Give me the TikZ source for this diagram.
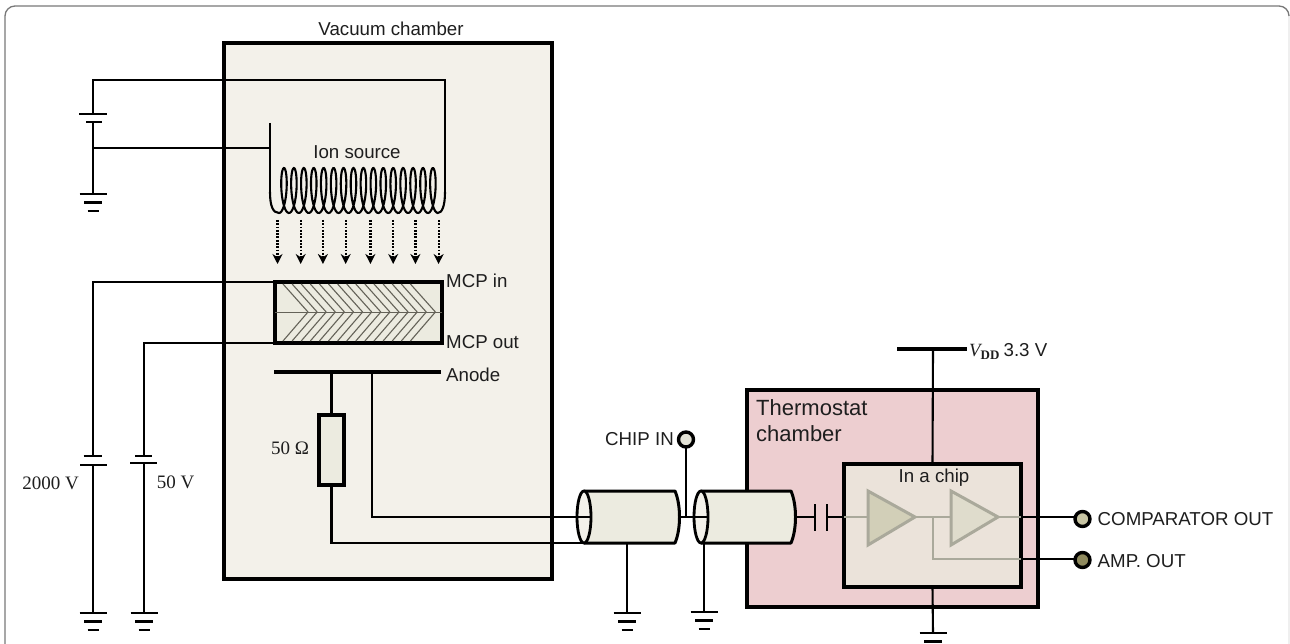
\documentclass[tikz,border=0pt]{standalone}
\usepackage{fontspec}
\setmainfont{Liberation Sans}
\newfontfamily\serifface{Liberation Serif}
\usetikzlibrary{arrows.meta,shapes.geometric}
\definecolor{framecol}{RGB}{120,120,120}
\definecolor{inkcol}{RGB}{30,30,30}
\definecolor{vacuumcol}{RGB}{243,241,234}
\definecolor{mcpcol}{RGB}{236,235,224}
\definecolor{hatchcol}{RGB}{100,98,88}
\definecolor{thermocol}{RGB}{237,206,208}
\definecolor{chipcol}{RGB}{235,227,218}
\definecolor{ampcol}{RGB}{170,169,155}
\definecolor{ampAcol}{RGB}{210,207,184}
\definecolor{ampBcol}{RGB}{223,220,204}
\definecolor{termAcol}{RGB}{227,226,214}
\definecolor{termBcol}{RGB}{200,197,164}
\definecolor{termCcol}{RGB}{143,138,94}
\tikzset{
  wire/.style={draw=black,line width=2.1pt},
  greywire/.style={draw=ampcol,line width=2pt},
  plate/.style={draw=black,line width=2.5pt},
  bar/.style={draw=black,line width=4.8pt},
  chamber/.style={draw=black,line width=4pt,inner sep=0pt,outer sep=0pt},
  resbox/.style={chamber,fill=mcpcol,line width=3.2pt},
  coax/.style={draw=black,line width=3pt,fill=mcpcol,line join=round},
  coaxend/.style={ellipse,draw=black,line width=2.8pt,fill=vacuumcol,inner sep=0pt,
                  outer sep=0pt,minimum width=14pt,minimum height=52pt},
  amp/.style={draw=ampcol,line width=3pt,line join=miter},
  term/.style={circle,draw=black,line width=3.4pt,inner sep=0pt,outer sep=0pt,
               minimum size=15pt},
  hatch/.style={draw=hatchcol,line width=1.1pt},
  ion/.style={-{Stealth[length=10pt,width=10pt]},draw=black,line width=2.2pt,
              dash pattern=on 1.8pt off 1.5pt},
  lab/.style={inner sep=0pt,text=inkcol,font=\fontsize{18.7}{22}\selectfont},
  seriflab/.style={lab,font=\serifface\fontsize{19}{22}\selectfont},
}
\begin{document}
\begin{tikzpicture}[x=1pt,y=-1pt]
  \useasboundingbox (0,0) rectangle (1290,644);
  \fill[white] (0,0) rectangle (1290,644);
  \draw[framecol!12,line width=1.3pt] (1289,14) -- (1289,660);
  \draw[framecol,line width=1.3pt,rounded corners=10pt]
    (5,660) -- (5,6) -- (1289,6) -- (1289,16);
  % the two chambers and the chip
  \node[chamber,fill=vacuumcol,minimum width=328pt,minimum height=536pt] (vacuum) at (388,311) {};
  \node[chamber,fill=thermocol,minimum width=291pt,minimum height=217pt] (thermo) at (892.5,498.5) {};
  \node[chamber,fill=chipcol,minimum width=177pt,minimum height=123pt] (chip) at (932.5,525.5) {};
  \node[lab] (vacuumlab) at (391,29) {Vacuum chamber};
  \node[lab,anchor=north west,align=left,font=\fontsize{22}{26}\selectfont] (thermolab) at (756,399)
    {Thermostat\\chamber};
  \node[lab] (chiplab) at (934,478) {In a chip};
  % earth symbols
  \foreach \n/\x/\y in {A/93/194,B/93/613,C/144/613,D/627/613,E/704/612,F/933/633}{
    \coordinate (gnd\n) at (\x,\y);
    \draw[plate] (\x-13.5,\y) -- (\x+13.5,\y);
    \draw[plate] (\x-9,\y+8.5) -- (\x+9,\y+8.5);
    \draw[plate] (\x-5.5,\y+17) -- (\x+5.5,\y+17);}
  % supplies
  \coordinate (supAtop) at (93,114);
  \coordinate (supAlow) at (93,122);
  \coordinate (supBtop) at (93,456);
  \coordinate (supBlow) at (93,465);
  \coordinate (supCtop) at (144,456);
  \coordinate (supClow) at (144,463);
  \draw[plate] (79,114) -- (107,114);
  \draw[plate] (86,122) -- (102,122);
  \draw[plate] (83.5,456) -- (102,456);
  \draw[plate] (80,465) -- (107,465);
  \draw[plate] (135,456) -- (152,456);
  \draw[plate] (130,463) -- (157,463);
  \node[seriflab] (voltB) at (50.5,483.5) {2000 V};
  \node[seriflab] (voltC) at (175.5,482.5) {50 V};
  % ion source
  \coordinate (filL) at (270,192);
  \coordinate (filR) at (445,192);
  \coordinate (filtop) at (270,123);
  \coordinate (filtap) at (270,148);
  \node[lab] (ionlab) at (357,152) {Ion source};
  \draw[wire] (filL) .. controls (270,206) and (273,213) .. (279,213)
    -- plot[domain=0:16,samples=500,smooth] ({279+9.93*\x+5*sin(360*\x)},{190.5+22.5*cos(360*\x)})
    .. controls (442,213) and (445,206) .. (filR);
  \draw[wire] (filtop) -- (filL);
  \draw[wire] (supAtop) |- (445,80) -- (filR);
  \draw[wire] (supAlow) -- (gndA);
  \draw[wire] (93,148) -- (filtap);
  \foreach \i/\x in {1/277.5,2/300.7,3/322.9,4/345.7,5/370.4,6/393.2,7/415.4,8/438.6}{
    \coordinate (ionfrom\i) at (\x,220);
    \coordinate (ionto\i) at (\x,264);
    \draw[ion] (ionfrom\i) -- (ionto\i);}
  % the plates
  \node[chamber,fill=mcpcol,minimum width=167pt,minimum height=61pt] (mcp) at (358.5,312.5) {};
  \foreach \i in {0,...,14}{
    \draw[hatch] ({283+9.1*\i},284) -- ({308+9.1*\i},312);
    \draw[hatch] ({283+9.1*\i},341) -- ({308+9.1*\i},312);}
  \draw[draw=hatchcol,line width=1.2pt] (mcp.west) -- (mcp.east);
  \draw[wire] (mcp.north west) -- (93,282) -- (supBtop);
  \draw[wire] (supBlow) -- (gndB);
  \draw[wire] (mcp.south west) -- (144,343) -- (supCtop);
  \draw[wire] (supClow) -- (gndC);
  \node[lab,anchor=west] (mcpin) at (446,281) {MCP in};
  \node[lab,anchor=west] (mcpout) at (446,342) {MCP out};
  \coordinate (anodeL) at (274,372);
  \coordinate (anodeR) at (441,372);
  \draw[bar] (anodeL) -- (anodeR);
  \node[lab,anchor=west] (anodelab) at (446,375) {Anode};
  \node[resbox,minimum width=25pt,minimum height=70pt] (load) at (331.5,450) {};
  \node[seriflab] (loadlab) at (290,448) {50 Ω};
  % the two cable pieces
  \draw[coax] (584,491) -- (675,491) .. controls (681,505) and (681,529) .. (675,543) -- (584,543) -- cycle;
  \draw[coax] (701,491) -- (791,491) .. controls (797,505) and (797,529) .. (791,543) -- (701,543) -- cycle;
  \node[coaxend] (endA) at (584,517) {};
  \node[coaxend] (endB) at (701,517) {};
  \coordinate (coaxAout) at (680,517);
  \coordinate (coaxBout) at (796,517);
  \coordinate (coaxAlow) at (627,543);
  \coordinate (coaxBlow) at (704,543);
  \draw[wire] (load.north) -- (331.5,372);
  \draw[wire] (load.south) |- (endA.south);
  \draw[wire] (372,372) |- (endA.east);
  \draw[wire] (coaxAout) -- (endB.east);
  \draw[wire] (coaxAlow) -- (gndD);
  \draw[wire] (coaxBlow) -- (gndE);
  \node[term,fill=termAcol] (chipin) at (686,439.5) {};
  \node[lab,anchor=east] (chipinlab) at (674,439) {CHIP IN};
  \draw[wire] (chipin) -- (686,517);
  % capacitor and amplifiers
  \coordinate (capL) at (815,517);
  \coordinate (capR) at (827,517);
  \draw[plate] (815,504) -- (815,531);
  \draw[plate] (827,504) -- (827,531);
  \draw[wire] (coaxBout) -- (capL);
  \draw[wire] (capR) -- (chip.west |- capR);
  \coordinate (ampAin) at (868,517);
  \coordinate (ampAout) at (915,517);
  \coordinate (ampBin) at (951,517);
  \coordinate (ampBout) at (998,517);
  \coordinate (chipR) at (1021,517);
  \coordinate (chipRlow) at (1021,559);
  \draw[greywire] (chip.west |- capR) -- (ampAin);
  \draw[greywire] (ampAout) -- (ampBin);
  \draw[greywire] (ampBout) -- (chipR);
  \draw[greywire] (933,517) |- (chipRlow);
  \draw[amp,fill=ampAcol] (868,491) -- (ampAout) -- (868,545) -- cycle;
  \draw[amp,fill=ampBcol] (951,491) -- (ampBout) -- (951,545) -- cycle;
  % supply and outputs of the chip
  \coordinate (vddL) at (897,349);
  \coordinate (vddR) at (967,349);
  \draw[bar] (vddL) -- (vddR);
  \draw[wire] (933,349) -- (chip.north);
  \draw[wire] (chip.south) -- (gndF);
  \node[lab,anchor=west] (vddlab) at (969,351)
    {{\serifface\itshape V}\raisebox{-3pt}{\serifface\bfseries\fontsize{13}{13}\selectfont DD}\hspace{-1pt} 3.3 V};
  \node[term,fill=termBcol] (compout) at (1082.5,519) {};
  \node[term,fill=termCcol] (ampout) at (1082.5,560) {};
  \draw[wire] (chipR) -- (chipR -| compout.west);
  \draw[wire] (chipRlow) -- (chipRlow -| ampout.west);
  \node[lab,anchor=west] (compoutlab) at (1097.5,519) {COMPARATOR OUT};
  \node[lab,anchor=west] (ampoutlab) at (1097.5,561) {AMP. OUT};
\end{tikzpicture}
\end{document}
